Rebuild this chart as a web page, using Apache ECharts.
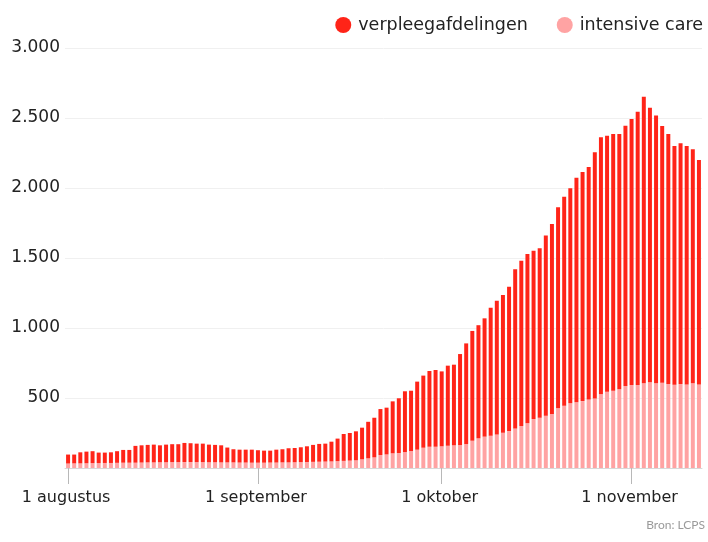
<!DOCTYPE html>
<html>
<head>
<meta charset="utf-8">
<script src="https://cdn.jsdelivr.net/npm/echarts@6/dist/echarts.min.js"></script>
<style>
  html, body { margin: 0; padding: 0; background: #fff; }
  #chart { width: 708px; height: 542px; }
</style>
</head>
<body>
<div id="chart"></div>
<script>
// dagelijkse bezetting, 1 augustus t/m 12 november
const startDate = '2020-08-01'
const dayCount = 104

// totaal bezette bedden (verpleegafdelingen + intensive care)
const totaal = [
  96, 96, 112, 117, 120, 110, 110, 112, 120, 129, 129, 158, 162, 165, 167, 162,
  167, 170, 170, 179, 177, 174, 174, 167, 165, 162, 146, 134, 131, 131, 131,
  127, 124, 124, 131, 134, 141, 143, 148, 155, 165, 172, 174, 188, 210, 243,
  250, 262, 288, 330, 359, 421, 431, 476, 498, 548, 552, 617, 660, 693, 700,
  690, 731, 738, 814, 890, 979, 1020, 1069, 1145, 1195, 1236, 1295, 1419, 1481,
  1529, 1552, 1569, 1660, 1743, 1862, 1938, 1998, 2074, 2114, 2150, 2255, 2362,
  2374, 2386, 2386, 2445, 2493, 2545, 2652, 2574, 2517, 2443, 2386, 2300, 2319,
  2300, 2276, 2200
]

// intensive care
const ic = [
  32, 33, 33, 34, 35, 35, 36, 36, 37, 38, 38, 38, 39, 40, 40, 41,
  41, 42, 42, 43, 43, 42, 42, 41, 41, 40, 40, 40, 39, 39, 38,
  38, 38, 39, 39, 40, 40, 41, 42, 43, 44, 45, 46, 47, 49, 51,
  53, 55, 62, 69, 76, 93, 97, 105, 107, 114, 121, 131, 145, 152, 152,
  155, 159, 162, 164, 171, 195, 212, 224, 231, 240, 252, 264, 283, 300,
  319, 350, 359, 374, 386, 426, 445, 462, 469, 478, 490, 497, 526,
  545, 552, 562, 586, 593, 593, 605, 612, 605, 609, 600, 595, 600,
  597, 605, 597
]

const tickIndex = [0, 31, 61, 92]
const tickLabels = ['1 augustus', '1 september', '1 oktober', '1 november']

const dates = []
const d0 = new Date(startDate + 'T12:00:00')
for (let i = 0; i < dayCount; i++) {
  const d = new Date(d0.getTime() + i * 86400000)
  dates.push(d.toISOString().slice(0, 10))
}

// verpleegafdelingen = totaal min IC (gestapeld boven op IC)
const verpleeg = totaal.map((v, i) => v - ic[i])

const chart = echarts.init(document.getElementById('chart'))

const fmt = v => String(v).replace(/\B(?=(\d{3})+(?!\d))/g, '.')
const showTick = i => tickIndex.indexOf(i) !== -1

chart.setOption({
  animation: false,
  textStyle: { fontFamily: '"DejaVu Sans", sans-serif' },
  legend: {
    data: ['verpleegafdelingen', 'intensive care'],
    right: 0,
    top: 11,
    icon: 'circle',
    itemWidth: 16,
    itemHeight: 16,
    itemGap: 29,
    textStyle: { fontSize: 17.5, color: '#222', padding: [0, 0, 0, 2] }
  },
  grid: {
    left: 65,
    right: 6,
    top: 48,
    bottom: 74
  },
  xAxis: {
    type: 'category',
    data: dates,
    boundaryGap: true,
    axisLine: { lineStyle: { color: '#d8d8d8', width: 1 } },
    axisTick: {
      show: true,
      alignWithLabel: true,
      interval: showTick,
      length: 16,
      lineStyle: { color: '#b8b8b8', width: 1 }
    },
    axisLabel: {
      interval: showTick,
      margin: 22,
      fontSize: 16,
      color: '#222',
      padding: [0, 4, 0, 0],
      formatter: (v, i) => tickLabels[tickIndex.indexOf(i)] || ''
    }
  },
  yAxis: {
    type: 'value',
    min: 0,
    max: 3000,
    interval: 500,
    axisLine: { show: false },
    axisTick: { show: false },
    splitLine: { lineStyle: { color: '#f0f0f0' } },
    axisLabel: {
      fontSize: 17,
      color: '#222',
      margin: 5,
      formatter: v => (v === 0 ? '' : fmt(v))
    }
  },
  graphic: [{
    type: 'text',
    right: 3,
    top: 519,
    style: { text: 'Bron: LCPS', fontSize: 12, fill: '#9a9a9a', fontFamily: 'Lato, sans-serif' }
  }],
  series: [
    {
      name: 'intensive care',
      type: 'bar',
      stack: 'bezetting',
      barWidth: '65%',
      itemStyle: { color: '#ffa3a3' },
      data: ic
    },
    {
      name: 'verpleegafdelingen',
      type: 'bar',
      stack: 'bezetting',
      barWidth: '65%',
      itemStyle: { color: '#ff2418' },
      data: verpleeg
    }
  ]
})
</script>
</body>
</html>
